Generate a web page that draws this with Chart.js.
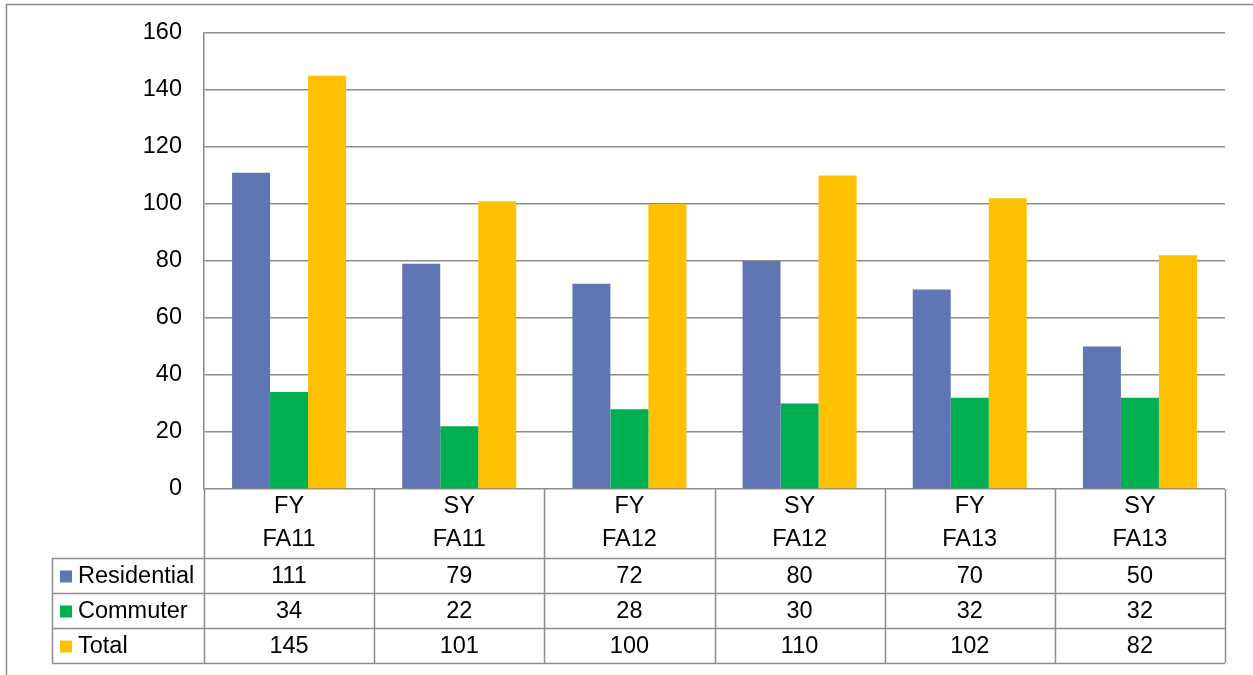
<!DOCTYPE html>
<html>
<head>
<script src="https://cdn.jsdelivr.net/npm/chart.js"></script>
<style>
  body { margin: 0; background: #fff; }
</style>
</head>
<body>
<canvas id="Chart" width="1253" height="675"></canvas>
<script>
const categories = [["FY", "FA11"], ["SY", "FA11"], ["FY", "FA12"], ["SY", "FA12"], ["FY", "FA13"], ["SY", "FA13"]];
const residential = [111, 79, 72, 80, 70, 50];
const commuter = [34, 22, 28, 30, 32, 32];
const total = [145, 101, 100, 110, 102, 82];
const seriesNames = ["Residential", "Commuter", "Total"];
const seriesColors = ["#6076B4", "#00B050", "#FFC000"];

const FONT = '23.5px "Liberation Sans", Arial, sans-serif';
const LINE = "#8c8c8c";

// draws the outer frame and the excel-style data table under the plot
const dataTable = {
  id: "dataTable",
  beforeDraw(chart) {
    const ctx = chart.ctx;
    ctx.save();
    ctx.strokeStyle = "#8c8c8c";
    ctx.lineWidth = 1.5;
    ctx.strokeRect(6.5, 4.5, 1400, 800);
    ctx.restore();
  },
  afterDraw(chart) {
    const { ctx, chartArea: a, scales: { x } } = chart;
    const n = chart.data.labels.length;
    const colW = (a.right - a.left) / n;
    const headH = 69, rowH = 35;
    const legLeft = 52;
    const rowsTop = a.bottom + headH;
    const bottom = rowsTop + rowH * 3;

    ctx.save();
    ctx.strokeStyle = LINE;
    ctx.lineWidth = 1.5;
    ctx.beginPath();
    // vertical lines of value columns
    for (let i = 0; i <= n; i++) {
      const px = Math.round(a.left + colW * i) + 0.5;
      ctx.moveTo(px, a.bottom);
      ctx.lineTo(px, bottom);
    }
    // legend column left edge
    ctx.moveTo(legLeft + 0.5, rowsTop);
    ctx.lineTo(legLeft + 0.5, bottom);
    // horizontal lines
    for (let r = 0; r <= 3; r++) {
      const py = Math.round(rowsTop + rowH * r) + 0.5;
      ctx.moveTo(legLeft, py);
      ctx.lineTo(a.right, py);
    }
    ctx.stroke();

    ctx.font = FONT;
    ctx.fillStyle = "#000";
    ctx.textBaseline = "middle";
    ctx.textAlign = "center";
    chart.data.labels.forEach((lab, i) => {
      const cx = x.getPixelForValue(i);
      ctx.fillText(lab[0], cx, a.bottom + 18);
      ctx.fillText(lab[1], cx, a.bottom + 51);
    });
    chart.data.datasets.forEach((ds, r) => {
      const cy = rowsTop + rowH * r + rowH / 2 + 1;
      ds.data.forEach((v, i) => {
        ctx.textAlign = "center";
        ctx.fillText(String(v), x.getPixelForValue(i), cy);
      });
      ctx.fillStyle = ds.backgroundColor;
      ctx.fillRect(legLeft + 8, cy - 6, 12, 12);
      ctx.fillStyle = "#000";
      ctx.textAlign = "left";
      ctx.fillText(ds.label, legLeft + 26, cy);
    });
    ctx.restore();
  }
};

const series = [residential, commuter, total];
new Chart(document.getElementById("Chart"), {
  type: "bar",
  data: {
    labels: categories,
    datasets: series.map((d, i) => ({
      label: seriesNames[i],
      data: d,
      backgroundColor: seriesColors[i],
      borderWidth: 0,
      barPercentage: 1,
      categoryPercentage: 0.67
    }))
  },
  options: {
    responsive: false,
    animation: false,
    layout: { padding: { left: 0, top: 33, right: 28, bottom: 186 } },
    plugins: { legend: { display: false }, tooltip: { enabled: false } },
    scales: {
      x: { display: false },
      y: {
        min: 0,
        max: 160,
        afterFit(scale) {
          scale.width = 204;
          scale.paddingTop = 0;
          scale.paddingBottom = 0;
        },
        ticks: {
          stepSize: 20,
          padding: 22,
          color: "#000",
          font: { family: '"Liberation Sans", Arial, sans-serif', size: 23.5 }
        },
        grid: { color: LINE, lineWidth: 1.5, drawTicks: false },
        border: { color: LINE, width: 1.5 }
      }
    }
  },
  plugins: [dataTable]
});
</script>
</body>
</html>
